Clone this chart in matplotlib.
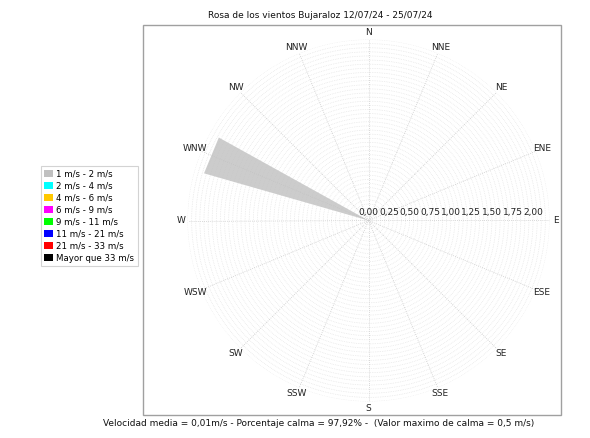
import numpy as np
import matplotlib
matplotlib.use("Agg")
import matplotlib.pyplot as plt
from matplotlib.patches import Rectangle, Patch
from matplotlib.transforms import ScaledTranslation

# ---------------- data ----------------
directions = ['N', 'NNE', 'NE', 'ENE', 'E', 'ESE', 'SE', 'SSE',
              'S', 'SSW', 'SW', 'WSW', 'W', 'WNW', 'NW', 'NNW']
direction_angles = [0, 22.5, 45, 67.5, 90, 112.5, 135, 157.5,
                    180, 202.5, 225, 247.5, 270, 292.5, 315, 337.5]
speed_bins = ['1 m/s - 2 m/s', '2 m/s - 4 m/s', '4 m/s - 6 m/s', '6 m/s - 9 m/s',
              '9 m/s - 11 m/s', '11 m/s - 21 m/s', '21 m/s - 33 m/s', 'Mayor que 33 m/s']
bin_colors = ['#c0c0c0', '#00ffff', '#ffc800', '#ff00ff',
              '#00ff00', '#0000ff', '#ff0000', '#000000']
# frequency (%) per direction for each speed bin
freq_1_2 = [0, 0, 0, 0, 0, 0, 0, 0, 0, 0, 0, 0, 0, 2.08, 0, 0]
freq_2_4 = [0, 0, 0, 0, 0, 0, 0, 0, 0, 0, 0, 0, 0, 0, 0, 0]
freq_4_6 = [0, 0, 0, 0, 0, 0, 0, 0, 0, 0, 0, 0, 0, 0, 0, 0]
freq_6_9 = [0, 0, 0, 0, 0, 0, 0, 0, 0, 0, 0, 0, 0, 0, 0, 0]
freq_9_11 = [0, 0, 0, 0, 0, 0, 0, 0, 0, 0, 0, 0, 0, 0, 0, 0]
freq_11_21 = [0, 0, 0, 0, 0, 0, 0, 0, 0, 0, 0, 0, 0, 0, 0, 0]
freq_21_33 = [0, 0, 0, 0, 0, 0, 0, 0, 0, 0, 0, 0, 0, 0, 0, 0]
freq_33 = [0, 0, 0, 0, 0, 0, 0, 0, 0, 0, 0, 0, 0, 0, 0, 0]
radial_ticks = [0.0, 0.25, 0.5, 0.75, 1.0, 1.25, 1.5, 1.75, 2.0]
radial_labels = ['0,00', '0,25', '0,50', '0,75', '1,00', '1,25', '1,50', '1,75', '2,00']
title_text = 'Rosa de los vientos Bujaraloz 12/07/24 - 25/07/24'
footer_text = ('Velocidad media = 0,01m/s - Porcentaje calma = 97,92% -  '
               '(Valor maximo de calma = 0,5 m/s)')

all_freqs = [freq_1_2, freq_2_4, freq_4_6, freq_6_9, freq_9_11, freq_11_21, freq_21_33, freq_33]

# ---------------- figure ----------------
W, H = 590, 438
fig = plt.figure(figsize=(W / 100, H / 100), dpi=100)
fig.patch.set_facecolor('white')
plt.rcParams['font.family'] = ['DejaVu Sans']

rmax = 2.2
cx, cy, R = 368.5, 220.5, 181.0
ax = fig.add_axes([(cx - R) / W, (H - cy - R) / H, 2 * R / W, 2 * R / H], projection='polar')
ax.set_theta_zero_location('N')
ax.set_theta_direction(-1)
ax.set_ylim(0, rmax)
ax.set_facecolor('none')
ax.spines['polar'].set_visible(False)
ax.grid(False)
ax.set_xticks([])
ax.set_yticks([])

# dotted grid circles
th = np.linspace(0, 2 * np.pi, 720)
for r in np.arange(0.05, rmax + 0.001, 0.05):
    ax.plot(th, np.full_like(th, r), color='#e0e0e0', lw=0.5, ls=(0, (1, 1.5)), zorder=1)
# spokes
for a in direction_angles:
    ax.plot([np.deg2rad(a)] * 2, [0, rmax], color='#cccccc', lw=0.6, ls=(0, (1, 1.5)), zorder=1)

# stacked triangular wedges (straight outer edge)
half_w = np.deg2rad(6.5)
inner = np.zeros(len(directions))
for vals, col in zip(all_freqs, bin_colors):
    for i, (a, v) in enumerate(zip(direction_angles, vals)):
        if v <= 0:
            continue
        t = np.deg2rad(a)
        r0 = inner[i]
        r1 = r0 + v
        ts = [t - half_w, t + half_w, t + half_w, t - half_w]
        rs = [r0, r0 * 0.9999, r1, r1 * 0.9999]
        if r0 == 0:
            ts = [t, t + half_w, t - half_w]
            rs = [0, r1, r1 * 0.9999]
        ax.fill(ts, rs, color=col, alpha=0.8, lw=0, zorder=3)
        inner[i] = r1

# direction labels
for d, a in zip(directions, direction_angles):
    ax.text(np.deg2rad(a), 2.28, d, ha='center', va='center', fontsize=6.5,
            color='#222222', clip_on=False)

# radial tick labels along E
off = ScaledTranslation(0, 3 / 100, fig.dpi_scale_trans)
for rv, lab in zip(radial_ticks, radial_labels):
    ax.text(np.pi / 2, rv, lab, ha='center', va='bottom', fontsize=6.5, color='#222222',
            transform=ax.transData + off, zorder=4)

# plot box
fig.add_artist(Rectangle((143 / W, (H - 415) / H), (561 - 143) / W, (415 - 25) / H,
                         transform=fig.transFigure, fill=False, edgecolor='#a0a0a0', lw=1))

# title and footer
fig.text(320 / W, 1 - 15 / H, title_text, ha='center', va='center', fontsize=6.5, color='#111111')
fig.text(319 / W, 1 - 424 / H, footer_text, ha='center', va='center', fontsize=6.5, color='#111111')

# legend
handles = [Patch(facecolor=c, edgecolor='none') for c in bin_colors]
leg = fig.legend(handles, speed_bins, loc='upper left',
                 bbox_to_anchor=(41 / W, 1 - 166 / H), fontsize=6.2,
                 frameon=True, fancybox=False, handlelength=1.0, handleheight=1.0,
                 handletextpad=0.4, labelspacing=0.35, borderpad=0.4, borderaxespad=0)
leg.get_frame().set_edgecolor('#c8c8c8')
leg.get_frame().set_linewidth(0.8)

fig.savefig('out.png', dpi=100)
